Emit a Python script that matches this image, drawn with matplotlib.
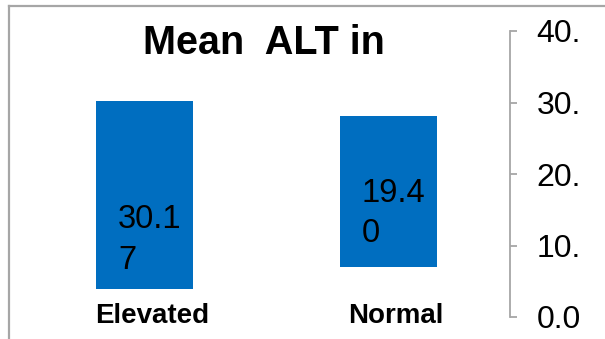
import matplotlib
matplotlib.use("Agg")
import matplotlib.pyplot as plt
from matplotlib.lines import Line2D

plt.rcParams['font.family'] = ['Liberation Sans', 'DejaVu Sans']

# Mean ALT by group
groups = ["Elevated", "Normal"]
mean_alt = [30.17, 19.40]
value_text = ["30.1\n7", "19.4\n0"]
# floating bar extents as rendered
bar_base = [3.9, 7.0]
bar_top = [30.17, 28.1]
label_y = [10.8, 14.5]

y_ticks = [0, 10, 20, 30, 40]
y_tick_text = ["0.0", "10.", "20.", "30.", "40."]

BLUE = "#006EC0"
GRAY = "#A6A6A6"

fig = plt.figure(figsize=(6.05, 3.39), dpi=100)
ax = fig.add_axes([0.0, 22 / 339, 510 / 605, 286 / 339])

x = range(len(groups))
heights = [t - b for t, b in zip(bar_top, bar_base)]
ax.bar(x, heights, bottom=bar_base, width=0.398, color=BLUE)

for i, txt in enumerate(value_text):
    ax.text(i - 0.11, label_y[i], txt, fontsize=23.5, va="center", ha="left",
            color="black", linespacing=1.4)

for i, g in enumerate(groups):
    ax.text(i + 0.03, 0.1, g, fontsize=20, fontweight="bold", ha="center",
            va="center", transform=ax.transData)

ax.set_xlim(-0.595, 1.499)
ax.set_ylim(0, 40)
ax.set_xticks([])

ax.yaxis.tick_right()
ax.set_yticks(y_ticks)
ax.set_yticklabels(y_tick_text, fontsize=23)
ax.tick_params(axis="y", direction="out", length=5, width=1.3, color=GRAY, pad=14)
for lbl in ax.get_yticklabels():
    lbl.set_va("center_baseline")

for side in ["top", "left", "bottom"]:
    ax.spines[side].set_visible(False)
ax.spines["right"].set_color(GRAY)
ax.spines["right"].set_linewidth(1.3)
ax.patch.set_visible(False)

fig.text(264 / 605, 1 - 43 / 339, "Mean  ALT in", fontsize=28.5, fontweight="bold",
         ha="center", va="center")

# outer frame (top and left edges)
fig.add_artist(Line2D([8.5 / 605, 1.0], [1 - 6 / 339, 1 - 6 / 339], color=GRAY,
                      linewidth=1.6, transform=fig.transFigure))
fig.add_artist(Line2D([8.5 / 605, 8.5 / 605], [0, 1 - 6 / 339], color=GRAY,
                      linewidth=1.6, transform=fig.transFigure))

fig.savefig("out.png", dpi=100)
